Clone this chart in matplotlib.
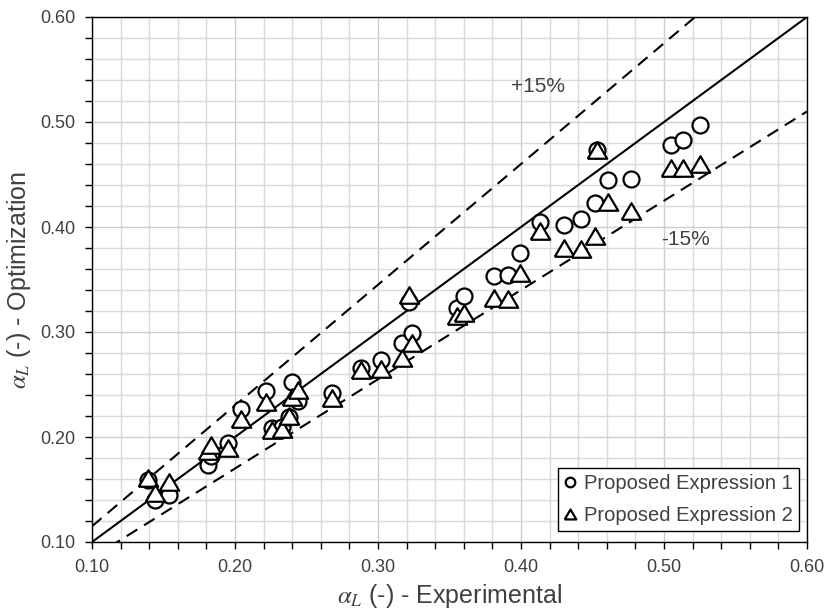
import matplotlib
matplotlib.use("Agg")
import matplotlib.pyplot as plt
from matplotlib.ticker import MultipleLocator, FormatStrFormatter
import numpy as np

# experimental alpha_L and the two proposed expressions
alpha_exp = [0.139, 0.144, 0.154, 0.181, 0.183, 0.195, 0.204, 0.222, 0.226, 0.233,
             0.238, 0.240, 0.244, 0.268, 0.288, 0.302, 0.317, 0.324, 0.322, 0.355,
             0.360, 0.381, 0.391, 0.399, 0.413, 0.430, 0.442, 0.452, 0.453, 0.461,
             0.477, 0.505, 0.513, 0.525]
expr1 = [0.159, 0.140, 0.145, 0.173, 0.182, 0.194, 0.227, 0.244, 0.209, 0.210,
         0.219, 0.252, 0.234, 0.242, 0.266, 0.273, 0.290, 0.299, 0.329, 0.323,
         0.334, 0.353, 0.354, 0.375, 0.405, 0.402, 0.408, 0.423, 0.473, 0.445,
         0.446, 0.478, 0.483, 0.497]
expr2 = [0.161, 0.147, 0.157, 0.187, 0.192, 0.190, 0.217, 0.233, 0.207, 0.208,
         0.220, 0.238, 0.245, 0.237, 0.264, 0.265, 0.275, 0.290, 0.335, 0.315,
         0.318, 0.332, 0.331, 0.356, 0.396, 0.380, 0.379, 0.391, 0.473, 0.424,
         0.415, 0.456, 0.456, 0.460]

band = 0.15
axis_min, axis_max = 0.10, 0.60
text_color = "#404040"

plt.rcParams["font.family"] = ["Liberation Sans", "DejaVu Sans"]
plt.rcParams["mathtext.fontset"] = "stix"

fig = plt.figure(figsize=(8.27, 6.11), dpi=100)
ax = fig.add_axes([92 / 827, 69 / 611, 715 / 827, 525 / 611])

# reference lines: perfect agreement and +/-15%
dash = (0, (6, 3.8))
ref = np.array([axis_min, axis_max])
ax.plot(ref, ref, color="black", lw=1.5, zorder=2)
ax.plot(ref, ref * (1 + band), color="black", lw=1.5, ls=dash, zorder=2)
ax.plot(ref, ref * (1 - band), color="black", lw=1.5, ls=dash, zorder=2)

# Excel-like triangle: a bit wider than tall
tri = [(-1, -0.85), (1, -0.85), (0, 0.85), (-1, -0.85)]

ax.plot(alpha_exp, expr1, ls="none", marker="o", ms=11.5, mfc="white", mec="black",
        mew=1.6, label="Proposed Expression 1", zorder=3)
ax.plot(alpha_exp, expr2, ls="none", marker=tri, ms=14, mfc="white", mec="black",
        mew=1.6, label="Proposed Expression 2", zorder=4)

ax.text(0.412, 0.534, "+15%", fontsize=15, color=text_color, ha="center", va="center")
ax.text(0.498, 0.388, "-15%", fontsize=15, color=text_color, ha="left", va="center")

ax.set_xlim(axis_min, axis_max)
ax.set_ylim(axis_min, axis_max)
for axis in (ax.xaxis, ax.yaxis):
	axis.set_major_locator(MultipleLocator(0.1))
	axis.set_minor_locator(MultipleLocator(0.02))
	axis.set_major_formatter(FormatStrFormatter("%.2f"))

ax.grid(which="major", color="#cccccc", lw=1.0, zorder=0)
ax.grid(which="minor", color="#dadada", lw=1.0, zorder=0)
ax.set_axisbelow(True)
ax.tick_params(which="both", direction="out", length=5, width=1, color="black",
               labelsize=13, labelcolor=text_color, pad=7)
for side in ["top", "bottom", "left", "right"]:
	ax.spines[side].set_linewidth(1.0)
	ax.spines[side].set_color("black")

ax.set_xlabel(r"$\alpha_L$ (-) - Experimental", fontsize=18, color=text_color)
ax.set_ylabel(r"$\alpha_L$ (-) - Optimization", fontsize=18, color=text_color)
ax.xaxis.set_label_coords(0.5, -0.076)
ax.yaxis.set_label_coords(-0.082, 0.5)

legend = ax.legend(loc="lower right", bbox_to_anchor=(0.989, 0.021), borderaxespad=0,
                   fancybox=False, framealpha=1, edgecolor="black", fontsize=14.5,
                   markerscale=0.6, handlelength=0.6, handletextpad=0.4,
                   labelspacing=0.62, borderpad=0.3, labelcolor=text_color)
legend.get_frame().set_linewidth(1.0)

fig.savefig("out.png", dpi=100)
